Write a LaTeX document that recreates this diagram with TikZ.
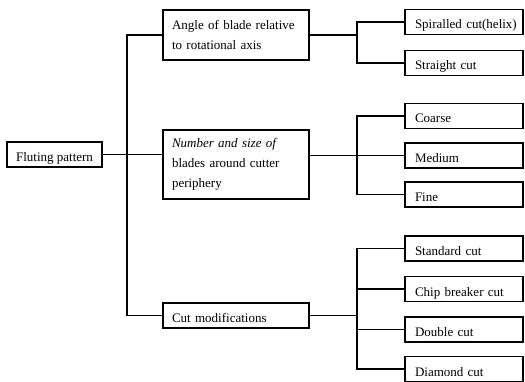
\documentclass[tikz,border=0pt]{standalone}
\usepackage{fontspec}
\setmainfont{Liberation Serif}
\begin{document}
\begin{tikzpicture}[x=1pt,y=-1pt,
  every node/.style={font=\fontsize{13}{20}\selectfont},
  box/.style={draw,line width=1.1pt,inner sep=0pt,anchor=center},
  leaf/.style={box,minimum width=118pt,minimum height=25pt,text width=104pt,align=left,text height=14pt,text depth=0pt,execute at begin node={\hspace*{3pt}}},
  mid/.style={box,minimum width=146pt,text width=128pt,align=left},
  conn/.style={line width=1.1pt}]
\useasboundingbox (0,0) rectangle (525,382);
\node[box,minimum width=95pt,minimum height=25pt,text height=14pt,text depth=0pt] (flut) at (54.5,154.5) {Fluting pattern};
\node[mid,minimum height=50pt] (angle) at (236,35) {Angle of blade relative\\to rotational axis};
\node[mid,minimum height=69pt] (number) at (236,164.5) {\textit{Number and size of}\\blades around cutter\\periphery};
\node[mid,minimum height=25pt,text height=14pt,text depth=0pt] (cutmod) at (236,315.5) {Cut modifications};
\node[leaf] (spiral) at (464,22) {\mbox{Spiralled cut(helix)}};
\node[leaf] (straight) at (464,63) {Straight cut};
\node[leaf] (coarse) at (464,116) {Coarse};
\node[leaf] (medium) at (464,155.5) {Medium};
\node[leaf] (fine) at (464,194.5) {Fine};
\node[leaf] (standard) at (464,248.5) {Standard cut};
\node[leaf] (chip) at (464,289) {Chip breaker cut};
\node[leaf] (double) at (464,329.5) {Double cut};
\node[leaf] (diamond) at (464,369) {Diamond cut};
\coordinate (t1) at (127,0);
\coordinate (t2) at (357,0);
\draw[conn] (flut.east) -- (flut.east -| number.west);
\draw[conn] (angle.west) -- (angle.west -| t1) -- (cutmod.west -| t1) -- (cutmod.west);
\draw[conn] (angle.east) -- (angle.east -| t2);
\draw[conn] (spiral.west) -- (spiral.west -| t2) -- (straight.west -| t2) -- (straight.west);
\draw[conn] (coarse.west) -- (coarse.west -| t2) -- (fine.west -| t2) -- (fine.west);
\draw[conn] (medium.west -| number.east) -- (medium.west);
\draw[conn] (standard.west) -- (standard.west -| t2) -- (diamond.west -| t2) -- (diamond.west);
\draw[conn] (chip.west) -- (chip.west -| t2);
\draw[conn] (double.west) -- (double.west -| t2);
\draw[conn] (cutmod.east) -- (cutmod.east -| t2);
\end{tikzpicture}
\end{document}
